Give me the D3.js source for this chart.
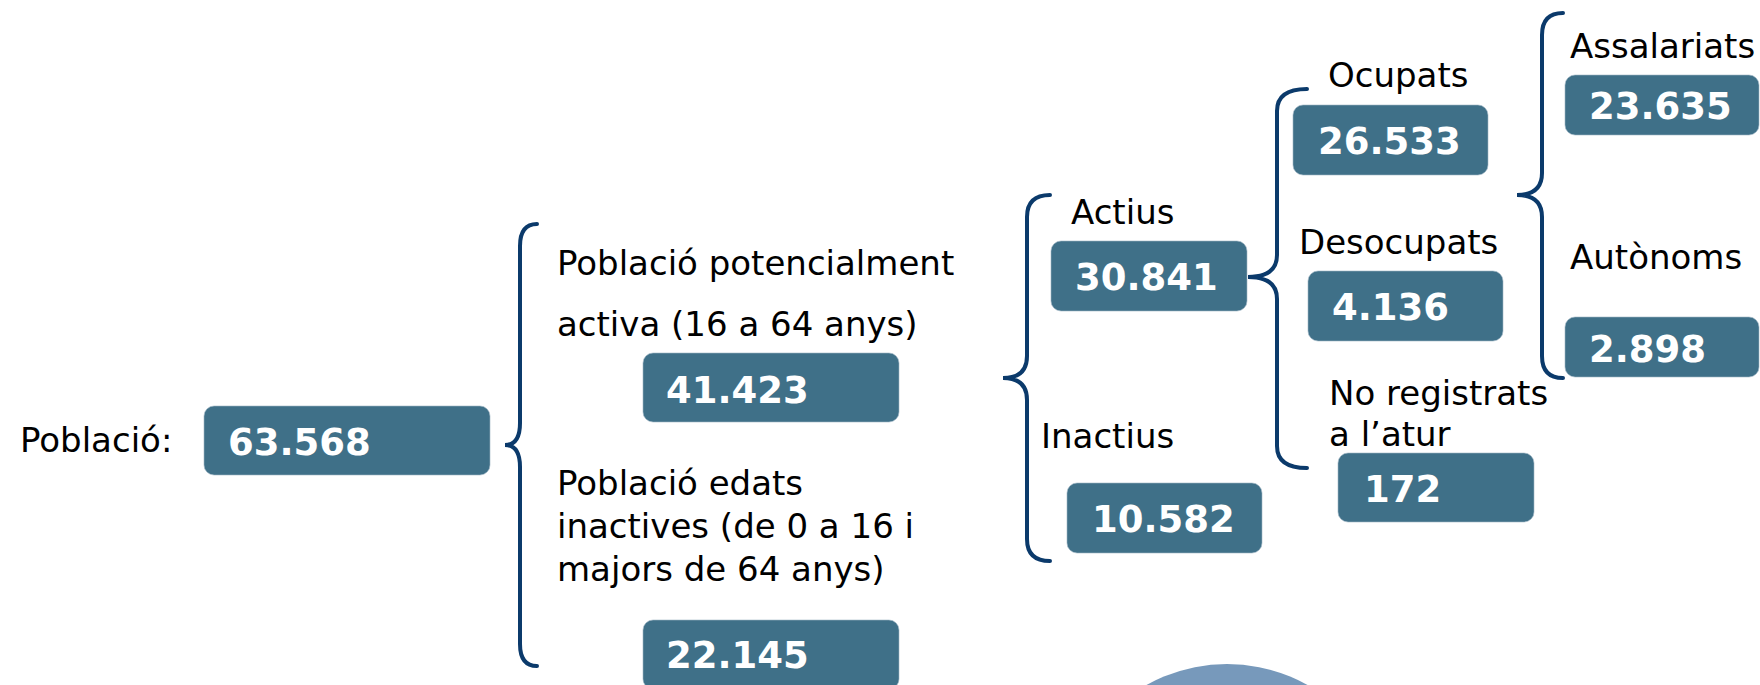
<!DOCTYPE html>
<html>
<head>
<meta charset="utf-8">
<script src="https://d3js.org/d3.v7.min.js"></script>
<title>Població i activitat</title>
<style>
    body { margin: 0; background: #fff; }
    text { font-family: "DejaVu Sans", Verdana, sans-serif; }
    text.label { fill: #000; font-size: 34px; }
    text.value { fill: #fff; font-size: 37px; font-weight: bold; }
    rect.box { fill: #3f7088; stroke: #9fb6c4; stroke-width: 0.6; }
    path.brace { fill: none; stroke: #0b3a6b; stroke-width: 4; stroke-linecap: round; }
</style>
</head>
<body>
<svg width="1760" height="685"></svg>

<script>
// data
var names = ["Població:", "Població potencialment|activa (16 a 64 anys)",
    "Població edats|inactives (de 0 a 16 i|majors de 64 anys)",
    "Actius", "Inactius", "Ocupats", "Desocupats", "No registrats|a l’atur",
    "Assalariats", "Autònoms"];
var values = [63568, 41423, 22145, 30841, 10582, 26533, 4136, 172, 23635, 2898];

// layout of the boxes: x0, y0, x1, y1
var boxes = [
    [204, 406, 490, 475], [643, 353, 899, 422], [643, 620, 899, 689],
    [1051, 241, 1247, 311], [1067, 483, 1262, 553], [1293, 105, 1488, 175],
    [1308, 271, 1503, 341], [1338, 453, 1534, 522], [1565, 75, 1759, 135],
    [1565, 317, 1759, 377]
];
var valueBase = [455, 403, 668, 290, 532, 154, 320, 502, 119, 362];
var valueX = [228, 666, 666, 1075, 1092, 1318, 1332, 1364, 1589, 1589];
// label: x, first baseline, line step
var labelPos = [
    [20, 452, 0], [557, 275, 61], [557, 495, 43], [1071, 224, 0], [1041, 448, 0],
    [1328, 87, 0], [1299, 254, 0], [1329, 405, 41], [1570, 58, 0], [1570, 269, 0]
];
// braces: tip x, tip y, line x, end x, top y, bottom y
var braces = [
    [505, 445, 520, 537, 224, 666],
    [1003, 378, 1027, 1050, 195, 561],
    [1248, 277, 1277, 1307, 89, 468],
    [1517, 195, 1542, 1563, 13, 378]
];

var fmt = d3.formatLocale({decimal: ",", thousands: ".", grouping: [3], currency: ["", "€"]}).format(",d");

var svg = d3.select("svg");

// background circle at the bottom
svg.append("circle")
    .attr("cx", 1227).attr("cy", 829).attr("r", 165)
    .attr("fill", "#7799bb");

function bracePath(b) {
    var tx = b[0], ty = b[1], lx = b[2], ex = b[3], top = b[4], bot = b[5];
    var r = 22;
    var p = d3.path();
    p.moveTo(ex, top);
    p.quadraticCurveTo(lx, top, lx, top + r);
    p.lineTo(lx, ty - r);
    p.quadraticCurveTo(lx, ty, tx, ty);
    p.quadraticCurveTo(lx, ty, lx, ty + r);
    p.lineTo(lx, bot - r);
    p.quadraticCurveTo(lx, bot, ex, bot);
    return p.toString();
}

svg.selectAll("path.brace")
    .data(braces)
    .enter()
    .append("path")
    .attr("class", "brace")
    .attr("d", bracePath);

svg.selectAll("rect.box")
    .data(boxes)
    .enter()
    .append("rect")
    .attr("class", "box")
    .attr("x", function(d) { return d[0]; })
    .attr("y", function(d) { return d[1]; })
    .attr("width", function(d) { return d[2] - d[0]; })
    .attr("height", function(d) { return d[3] - d[1]; })
    .attr("rx", 10);

svg.selectAll("text.value")
    .data(values)
    .enter()
    .append("text")
    .attr("class", "value")
    .attr("x", function(d, i) { return valueX[i]; })
    .attr("y", function(d, i) { return valueBase[i]; })
    .text(function(d) { return fmt(d); });

var labels = svg.selectAll("text.label")
    .data(names)
    .enter()
    .append("text")
    .attr("class", "label")
    .attr("x", function(d, i) { return labelPos[i][0]; })
    .attr("y", function(d, i) { return labelPos[i][1]; });

labels.each(function(d, i) {
    var lines = d.split("|");
    d3.select(this).selectAll("tspan")
        .data(lines)
        .enter()
        .append("tspan")
        .attr("x", labelPos[i][0])
        .attr("y", function(l, j) { return labelPos[i][1] + j * labelPos[i][2]; })
        .text(function(l) { return l; });
});
</script>
</body>
</html>
